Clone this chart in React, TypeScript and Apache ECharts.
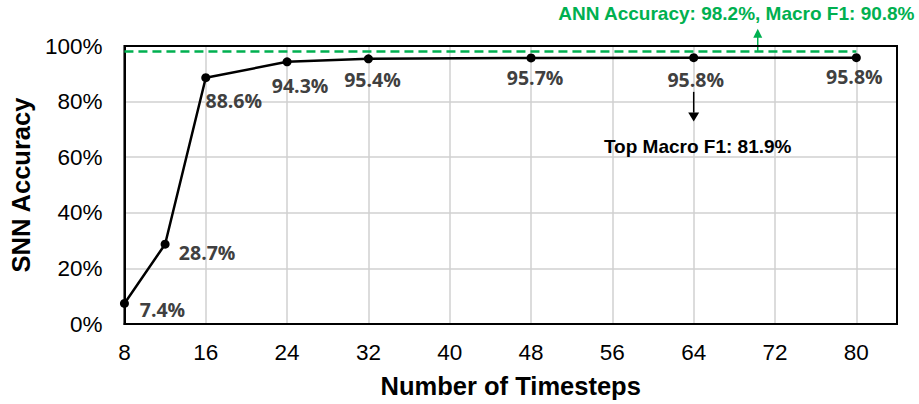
import React, { useEffect, useRef } from "react";
import * as echarts from "echarts";

const timesteps = [8, 12, 16, 24, 32, 48, 64, 80];
const snnAccuracy = [7.4, 28.7, 88.6, 94.3, 95.4, 95.7, 95.8, 95.8];
const annAccuracy = 98.2;
const annText = "ANN Accuracy: 98.2%, Macro F1: 90.8%";
const topF1Text = "Top Macro F1: 81.9%";
const xTitle = "Number of Timesteps";
const yTitle = "SNN Accuracy";

// label offsets (layout only)
const labelOffsets = [
  [38, 6],
  [42, 8],
  [28, 23],
  [13, 24],
  [4, 21],
  [4, 20],
  [2, 22],
  [-2, 19],
];

const GREEN = "#00b050";

export default function App() {
  const ref = useRef<HTMLDivElement>(null);
  useEffect(() => {
    const chart = echarts.init(ref.current!, null, { renderer: "svg" });
    const option: any = {
      animation: false,
      grid: { left: 123, right: 22, top: 46, bottom: 78 },
      xAxis: {
        type: "value",
        min: 8,
        max: 84,
        interval: 8,
        name: xTitle,
        nameLocation: "middle",
        nameGap: 49,
        nameTextStyle: { fontSize: 25.5, fontWeight: "bold", color: "#000", fontFamily: "Liberation Sans" },
        axisLabel: { showMaxLabel: false, fontSize: 22.5, color: "#000", fontFamily: "Liberation Sans", margin: 17 },
        axisTick: { show: false },
        axisLine: { show: true, lineStyle: { color: "#000", width: 2 } },
        splitLine: { show: true, lineStyle: { color: "#d0d0d0", width: 1.5 } },
      },
      yAxis: {
        type: "value",
        min: 0,
        max: 100,
        interval: 20,
        name: yTitle,
        nameLocation: "middle",
        nameGap: 88,
        nameTextStyle: { fontSize: 25.5, fontWeight: "bold", color: "#000", fontFamily: "Liberation Sans" },
        axisLabel: { formatter: "{value}%", fontSize: 22.5, color: "#000", fontFamily: "Liberation Sans", margin: 22 },
        axisTick: { show: false },
        axisLine: { show: true, lineStyle: { color: "#000", width: 2 } },
        splitLine: { show: true, lineStyle: { color: "#d0d0d0", width: 1.5 } },
      },
      series: [
        {
          type: "line",
          data: timesteps.map((x, i) => ({
            value: [x, snnAccuracy[i]],
            label: { offset: labelOffsets[i] },
          })),
          symbol: "circle",
          symbolSize: 9,
          itemStyle: { color: "#000" },
          lineStyle: { color: "#000", width: 2.5 },
          label: {
            show: true,
            position: "inside",
            align: "center",
            verticalAlign: "middle",
            formatter: (p: any) => p.value[1].toFixed(1) + "%",
            fontFamily: "Open Sans",
            fontWeight: "bold",
            fontSize: 19.5,
            color: "#404040",
          },
          markLine: {
            silent: true,
            symbol: "none",
            label: { show: false },
            lineStyle: { color: GREEN, type: [9, 5], width: 2.5 },
            data: [[{ coord: [timesteps[0], annAccuracy] }, { coord: [timesteps[timesteps.length - 1], annAccuracy] }]],
          },
          z: 3,
        },
      ],
    };
    chart.setOption(option);

    const px = (x: number, y: number) => chart.convertToPixel({ gridIndex: 0 } as any, [x, y]) as number[];
    const tl = px(8, 100);
    const br = px(84, 0);
    const gArrowBase = px(70.3, annAccuracy);
    const gArrowTip = px(70.3, 106.2);
    const gText = px(68.2, 111.8);
    const bArrowStart = px(64, 83.5);
    const bArrowTip = px(64, 72.8);
    const bText = px(64, 63.9);

    chart.setOption({
      graphic: [
        {
          type: "rect",
          z: 1,
          shape: { x: tl[0], y: tl[1], width: br[0] - tl[0], height: br[1] - tl[1] },
          style: { fill: "none", stroke: "#000", lineWidth: 2 },
          silent: true,
        },
        {
          type: "line",
          shape: { x1: gArrowBase[0], y1: gArrowBase[1], x2: gArrowTip[0], y2: gArrowTip[1] + 8 },
          style: { stroke: GREEN, lineWidth: 1.5 },
        },
        {
          type: "polygon",
          shape: {
            points: [
              [gArrowTip[0], gArrowTip[1]],
              [gArrowTip[0] - 4.5, gArrowTip[1] + 9],
              [gArrowTip[0] + 4.5, gArrowTip[1] + 9],
            ],
          },
          style: { fill: GREEN },
        },
        {
          type: "text",
          x: gText[0],
          y: gText[1],
          style: {
            text: annText,
            fill: GREEN,
            font: "bold 19px 'Liberation Sans'",
            align: "center",
            verticalAlign: "middle",
          },
        },
        {
          type: "line",
          shape: { x1: bArrowStart[0], y1: bArrowStart[1], x2: bArrowTip[0], y2: bArrowTip[1] - 9 },
          style: { stroke: "#000", lineWidth: 1.5 },
        },
        {
          type: "polygon",
          shape: {
            points: [
              [bArrowTip[0], bArrowTip[1]],
              [bArrowTip[0] - 5.5, bArrowTip[1] - 9],
              [bArrowTip[0] + 5.5, bArrowTip[1] - 9],
            ],
          },
          style: { fill: "#000" },
        },
        {
          type: "text",
          x: bText[0] + 4,
          y: bText[1],
          style: {
            text: topF1Text,
            fill: "#000",
            font: "bold 19px 'Liberation Sans'",
            align: "center",
            verticalAlign: "middle",
          },
        },
      ],
    });

    return () => chart.dispose();
  }, []);

  return (
    <div
      ref={ref}
      style={{ position: "fixed", left: 0, top: 0, width: 919, height: 404, background: "#fff" }}
    />
  );
}
